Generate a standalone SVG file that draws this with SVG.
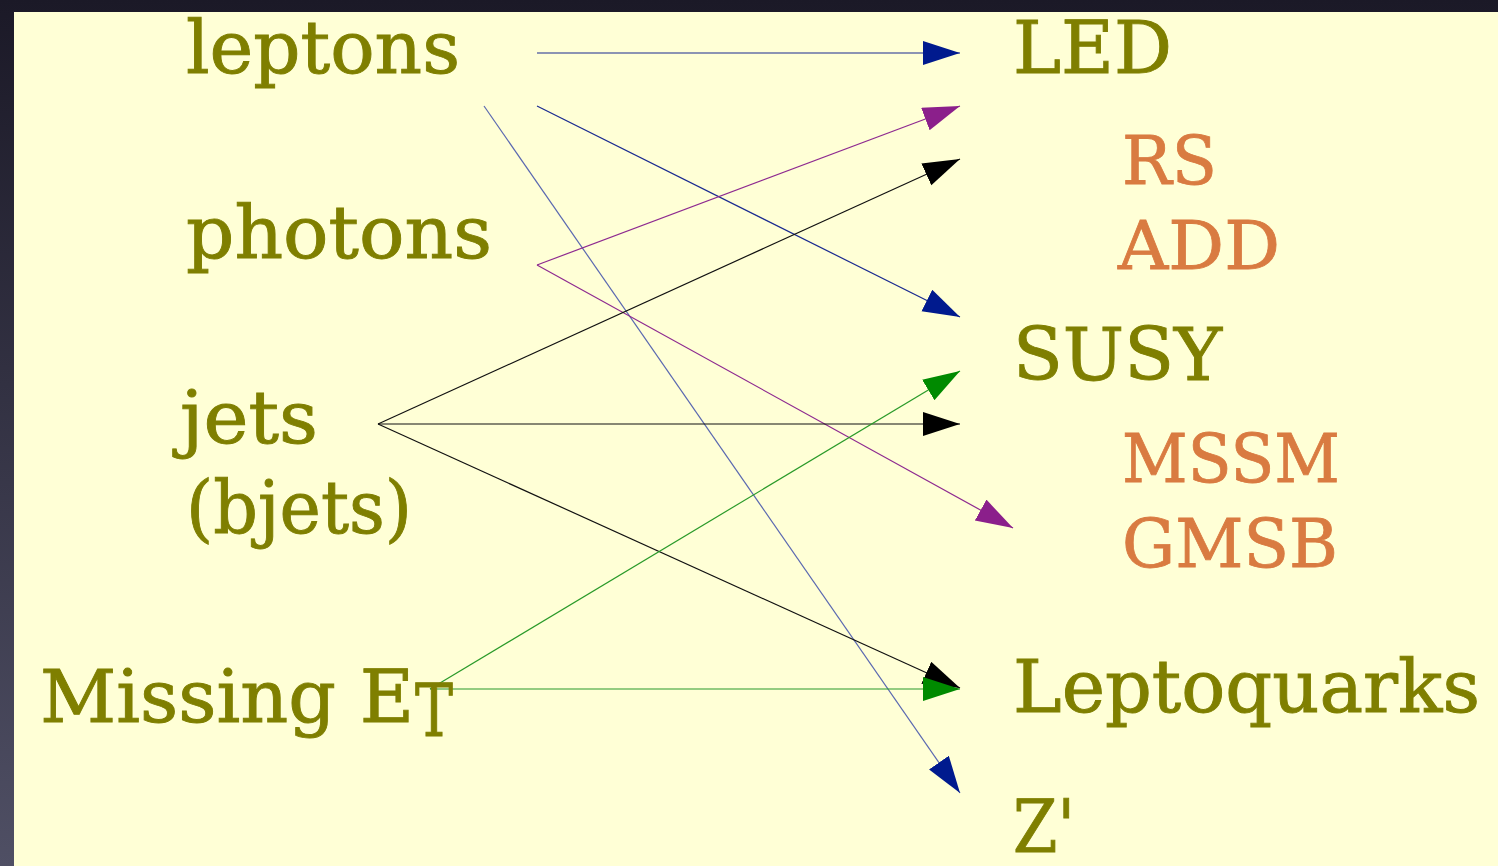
<svg xmlns="http://www.w3.org/2000/svg" width="1498" height="866" viewBox="0 0 1498 866">
<defs>
<linearGradient id="bg" x1="0" y1="0" x2="0" y2="1">
<stop offset="0" stop-color="#1b1927"/>
<stop offset="1" stop-color="#4f4f64"/>
</linearGradient>
<marker id="ab" markerUnits="userSpaceOnUse" markerWidth="38" markerHeight="26" refX="37" refY="12" orient="auto"><path d="M0,0 L37,12 L0,24 z" fill="#001a8e"/></marker>
<marker id="ap" markerUnits="userSpaceOnUse" markerWidth="38" markerHeight="26" refX="37" refY="12" orient="auto"><path d="M0,0 L37,12 L0,24 z" fill="#8b1f8b"/></marker>
<marker id="ak" markerUnits="userSpaceOnUse" markerWidth="38" markerHeight="26" refX="37" refY="12" orient="auto"><path d="M0,0 L37,12 L0,24 z" fill="#000"/></marker>
<marker id="ag" markerUnits="userSpaceOnUse" markerWidth="38" markerHeight="26" refX="37" refY="12" orient="auto"><path d="M0,0 L37,12 L0,24 z" fill="#008a00"/></marker>
</defs>
<style>
.t{font-family:"DejaVu Serif",serif;font-size:72px;fill:#7f7f00;stroke:#7f7f00;stroke-width:0.9}
.o{font-family:"DejaVu Serif",serif;font-size:68px;fill:#d97b41;stroke:#d97b41;stroke-width:0.8}
.c{fill:none;stroke-width:1.2}
.b{stroke:#1a2a90}
.p{stroke:#8e2a90}
.k{stroke:#111}
.g{stroke:#2a9a2a}
</style>
<rect width="1498" height="866" fill="url(#bg)"/>
<rect x="14" y="12" width="1484" height="854" fill="#ffffd6"/>
<g id="connectors">
<line class="c b" x1="537" y1="53" x2="960" y2="53" marker-end="url(#ab)"/>
<line class="c b" x1="537" y1="106" x2="960" y2="317" marker-end="url(#ab)"/>
<line class="c" stroke="#5a68b0" x1="484" y1="106" x2="960" y2="793" marker-end="url(#ab)"/>
<line class="c p" x1="537" y1="265" x2="960" y2="106" marker-end="url(#ap)"/>
<line class="c p" x1="537" y1="265" x2="1013" y2="528" marker-end="url(#ap)"/>
<line class="c k" x1="378" y1="424" x2="960" y2="159" marker-end="url(#ak)"/>
<line class="c k" x1="378" y1="424" x2="960" y2="424" marker-end="url(#ak)"/>
<line class="c k" x1="378" y1="424" x2="960" y2="688" marker-end="url(#ak)"/>
<line class="c g" x1="430" y1="689" x2="960" y2="371" marker-end="url(#ag)"/>
<line class="c g" x1="430" y1="689" x2="960" y2="689" marker-end="url(#ag)"/>
</g>
<g id="leptons"><text class="t" x="186" y="73" textLength="274" lengthAdjust="spacingAndGlyphs">leptons</text></g>
<g id="photons"><text class="t" x="186" y="258" textLength="306" lengthAdjust="spacingAndGlyphs">photons</text></g>
<g id="jets"><text class="t" x="180" y="443" textLength="138" lengthAdjust="spacingAndGlyphs">jets</text><text class="t" x="186" y="533" textLength="226" lengthAdjust="spacingAndGlyphs">(bjets)</text></g>
<g id="missing"><text class="t" x="40" y="722" textLength="374" lengthAdjust="spacingAndGlyphs">Missing E</text><text class="t" x="415" y="736" font-size="58" textLength="38" lengthAdjust="spacingAndGlyphs">T</text></g>
<g id="LED"><text class="t" x="1013" y="73" textLength="159" lengthAdjust="spacingAndGlyphs">LED</text></g>
<g id="RS"><text class="o" x="1122" y="184" textLength="95" lengthAdjust="spacingAndGlyphs">RS</text></g>
<g id="ADD"><text class="o" x="1118" y="269" textLength="162" lengthAdjust="spacingAndGlyphs">ADD</text></g>
<g id="SUSY"><text class="t" x="1013" y="380" textLength="209" lengthAdjust="spacingAndGlyphs">SUSY</text></g>
<g id="MSSM"><text class="o" x="1122" y="482" textLength="218" lengthAdjust="spacingAndGlyphs">MSSM</text></g>
<g id="GMSB"><text class="o" x="1122" y="567" textLength="216" lengthAdjust="spacingAndGlyphs">GMSB</text></g>
<g id="Leptoquarks"><text class="t" x="1013" y="712" textLength="467" lengthAdjust="spacingAndGlyphs">Leptoquarks</text></g>
<g id="Zprime"><text class="t" x="1013" y="852" textLength="62" lengthAdjust="spacingAndGlyphs">Z'</text></g>
</svg>
